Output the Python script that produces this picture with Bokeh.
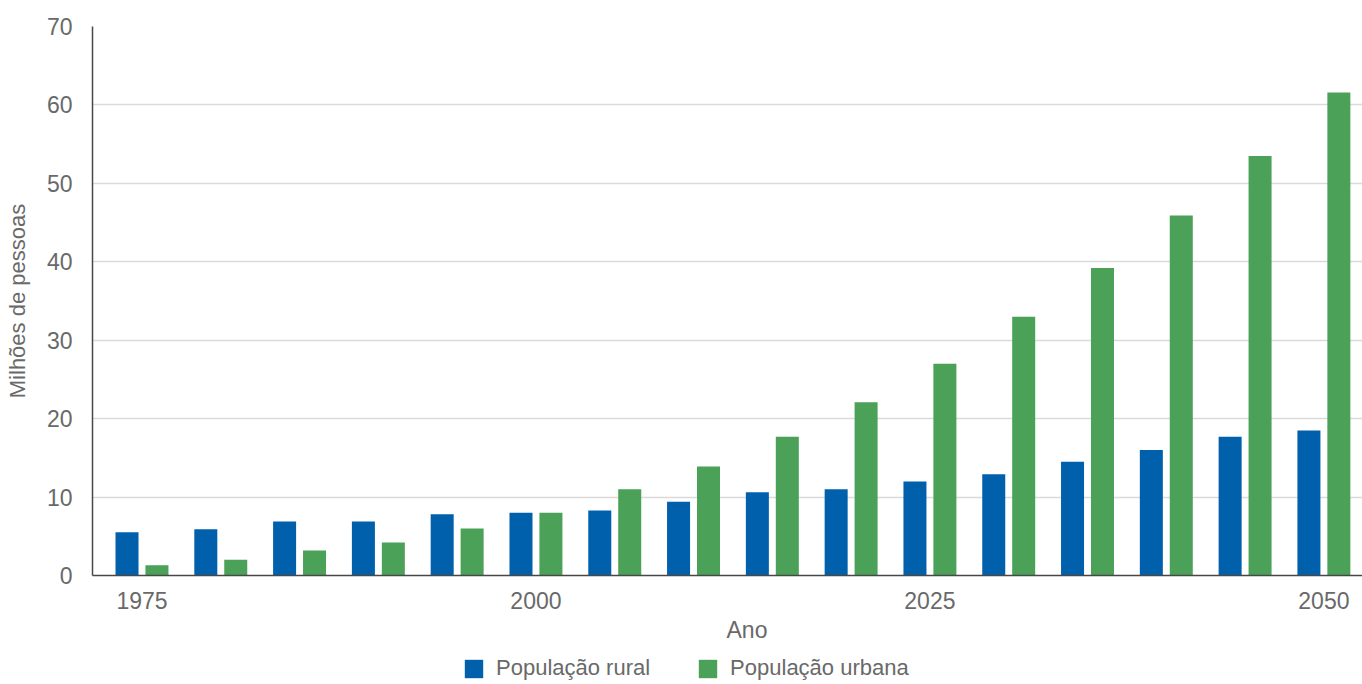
from bokeh.plotting import figure
from bokeh.layouts import column
from bokeh.models import FixedTicker, Legend, LegendItem, Title, Range1d, ColumnDataSource
from bokeh.transform import dodge
from bokeh.embed import file_html
from bokeh.resources import INLINE

# Population (millions of people), rural vs urban, 1975-2050
years = [1975, 1980, 1985, 1990, 1995, 2000, 2005, 2010,
         2015, 2020, 2025, 2030, 2035, 2040, 2045, 2050]
rural = [5.5, 5.9, 6.9, 6.9, 7.8, 8.0, 8.3, 9.4,
         10.6, 11.0, 12.0, 12.9, 14.5, 16.0, 17.7, 18.5]
urban = [1.3, 2.0, 3.2, 4.2, 6.0, 8.0, 11.0, 13.9,
         17.7, 22.1, 27.0, 33.0, 39.2, 45.9, 53.5, 61.6]
x_ticks = [1975, 2000, 2025, 2050]
y_ticks = [0, 10, 20, 30, 40, 50, 60, 70]
series_names = ["População rural", "População urbana"]
y_title = "Milhões de pessoas"
x_title = "Ano"

BLUE = "#0060ac"
GREEN = "#4aa157"
TEXT = "#696969"
FONT = "Liberation Sans"

source = ColumnDataSource(data=dict(year=years, rural=rural, urban=urban))

# main bar chart
p = figure(width=1362, height=647, output_backend="svg", toolbar_location=None,
           x_range=Range1d(1971.86, 2052.45), y_range=Range1d(0, 70),
           min_border_left=92, min_border_right=0, min_border_top=26,
           min_border_bottom=72)
p.outline_line_color = None
p.background_fill_color = "white"
p.border_fill_color = "white"

bar_style = dict(width=1.46, source=source, line_color=None)
p.vbar(x=dodge("year", -0.95, range=p.x_range), top="rural", fill_color=BLUE, **bar_style)
p.vbar(x=dodge("year", 0.95, range=p.x_range), top="urban", fill_color=GREEN, **bar_style)

# axes
p.xaxis.ticker = FixedTicker(ticks=x_ticks)
p.yaxis.ticker = FixedTicker(ticks=y_ticks)
for ax in (p.xaxis[0], p.yaxis[0]):
    ax.axis_line_color = "#474747"
    ax.axis_line_width = 1.5
    ax.major_tick_line_color = None
    ax.minor_tick_line_color = None
    ax.major_label_text_font = FONT
    ax.major_label_text_font_size = "23px"
    ax.major_label_text_color = TEXT
p.xaxis.major_label_standoff = 10
p.yaxis.major_label_standoff = 14
p.yaxis.axis_label = y_title
p.yaxis.axis_label_text_font = FONT
p.yaxis.axis_label_text_font_size = "22px"
p.yaxis.axis_label_text_font_style = "normal"
p.yaxis.axis_label_text_color = TEXT
p.yaxis.axis_label_standoff = 14

p.xgrid.grid_line_color = None
p.ygrid.grid_line_color = "#dadada"
p.ygrid.grid_line_width = 1.5

# x axis title, under the tick labels
t = Title(text=x_title, align="left", offset=634, text_font=FONT,
          text_font_size="23px", text_font_style="normal", text_color=TEXT,
          standoff=6)
p.add_layout(t, "below")

# legend strip under the chart; its bars lie below the strip's visible y range
leg = figure(width=1362, height=37, output_backend="svg", toolbar_location=None,
             x_range=p.x_range, y_range=Range1d(100, 200),
             x_axis_type=None, y_axis_type=None,
             min_border_left=0, min_border_right=0, min_border_top=0,
             min_border_bottom=0)
leg.outline_line_color = None
leg.grid.visible = False
lr1 = leg.vbar(x="year", top="rural", fill_color=BLUE, **bar_style)
lr2 = leg.vbar(x="year", top="urban", fill_color=GREEN, **bar_style)

legend = Legend(items=[LegendItem(label=series_names[0], renderers=[lr1]),
                       LegendItem(label=series_names[1], renderers=[lr2])],
                orientation="horizontal", location=(370, 3),
                glyph_width=23, glyph_height=23, label_standoff=11, spacing=46,
                padding=0, margin=0, border_line_color=None,
                background_fill_alpha=0,
                label_text_font=FONT, label_text_font_size="22px",
                label_text_color=TEXT)
leg.add_layout(legend, "center")

layout = column(p, leg, spacing=0)
open("out.html", "w").write(file_html(layout, INLINE))
